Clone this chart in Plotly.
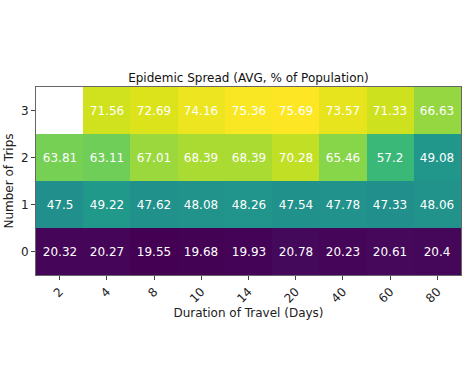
import plotly.graph_objects as go

durations = ["2", "4", "8", "10", "14", "20", "40", "60", "80"]
trips = ["0", "1", "2", "3"]
row_0 = [20.32, 20.27, 19.55, 19.68, 19.93, 20.78, 20.23, 20.61, 20.4]
row_1 = [47.5, 49.22, 47.62, 48.08, 48.26, 47.54, 47.78, 47.33, 48.06]
row_2 = [63.81, 63.11, 67.01, 68.39, 68.39, 70.28, 65.46, 57.2, 49.08]
row_3 = [None, 71.56, 72.69, 74.16, 75.36, 75.69, 73.57, 71.33, 66.63]

z = [row_0, row_1, row_2, row_3]
text = [["" if v is None else f"{v:g}" for v in row] for row in z]
vals = [v for row in z for v in row if v is not None]

viridis = [
    [0.0, "#440154"], [0.0625, "#48186a"], [0.125, "#472d7b"], [0.1875, "#424086"],
    [0.25, "#3b528b"], [0.3125, "#33638d"], [0.375, "#2c728e"], [0.4375, "#26828e"],
    [0.5, "#21918c"], [0.5625, "#1fa088"], [0.625, "#28ae80"], [0.6875, "#3fbc73"],
    [0.75, "#5ec962"], [0.8125, "#84d44b"], [0.875, "#addc30"], [0.9375, "#d8e219"],
    [1.0, "#fde725"],
]

fig = go.Figure(go.Heatmap(
    x=durations, y=trips, z=z, text=text, texttemplate="%{text}",
    textfont=dict(color="white", size=12, family="DejaVu Sans"),
    colorscale=viridis, zmin=min(vals), zmax=max(vals), showscale=False,
    hoverongaps=False,
))

fig.update_layout(
    width=467, height=371,
    margin=dict(l=36, r=6, t=87, b=96),
    paper_bgcolor="white", plot_bgcolor="white",
    font=dict(family="DejaVu Sans", color="#222", size=12),
    title=dict(text="Epidemic Spread (AVG, % of Population)", x=(36 + 461) / 2 / 467, xanchor="center",
               y=1 - 78 / 371, yanchor="middle", font=dict(size=12, color="#111")),
)
fig.update_xaxes(
    type="category", tickangle=-45, ticks="outside", ticklen=4, tickcolor="#444",
    showline=True, linecolor="#666", mirror=True, showgrid=False,
    tickfont=dict(size=12),
    title=dict(text="Duration of Travel (Days)", font=dict(size=12), standoff=2),
)
fig.update_yaxes(
    type="category", ticks="outside", ticklen=4, tickcolor="#444",
    showline=True, linecolor="#666", mirror=True, showgrid=False,
    tickfont=dict(size=12),
    title=dict(text="Number of Trips", font=dict(size=12), standoff=4),
)

fig.write_html("out.html", config={"displayModeBar": False},
               post_script="document.body.style.margin='0';document.body.style.padding='0';")
